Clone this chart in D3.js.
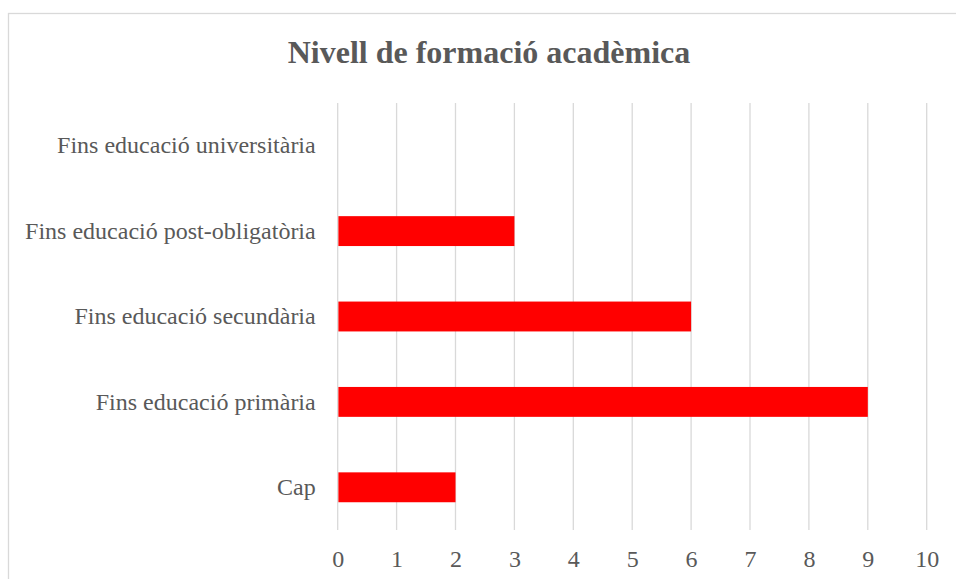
<!DOCTYPE html>
<html>
<head>
<meta charset="utf-8">
<script src="https://cdn.jsdelivr.net/npm/d3@7"></script>
<style>
  body { margin: 0; background: #fff; }
</style>
</head>
<body>
<script>
var categories = ['Fins educació universitària', 'Fins educació post-obligatòria', 'Fins educació secundària', 'Fins educació primària', 'Cap'];
var values = [0, 3, 6, 9, 2];
var xTicks = [0, 1, 2, 3, 4, 5, 6, 7, 8, 9, 10];
var title = 'Nivell de formació acadèmica';

var fontFamily = "'Liberation Serif', 'Times New Roman', Times, serif";

var svgWidth = 956, svgHeight = 579;
var margin = {top: 103, left: 337.7, bottom: 49, right: 29.3};
var width = svgWidth - margin.left - margin.right,
    height = svgHeight - margin.top - margin.bottom;

var svg = d3.select('body').append('svg')
  .attr('width', svgWidth)
  .attr('height', svgHeight);

// chart frame (cropped on the right and bottom)
svg.append('rect')
  .attr('x', 8.5).attr('y', 13.5)
  .attr('width', 970).attr('height', 600)
  .attr('fill', 'white')
  .attr('stroke', '#d9d9d9')
  .attr('stroke-width', 1.3);

svg.append('text')
  .attr('x', 489).attr('y', 63)
  .attr('text-anchor', 'middle')
  .style('font-family', fontFamily)
  .style('font-size', '32px')
  .style('font-weight', 'bold')
  .style('fill', '#595959')
  .text(title);

var g = svg.append('g')
  .attr('transform', `translate(${margin.left},${margin.top})`);

var xScale = d3.scaleLinear().domain([0, 10]).range([0, width]);
var yScale = d3.scaleBand().domain(categories).range([0, height]).paddingInner(0.65).paddingOuter(0.325);

// grid
g.selectAll('.grid').data(xTicks).enter().append('line')
  .attr('class', 'grid')
  .attr('x1', d => xScale(d)).attr('x2', d => xScale(d))
  .attr('y1', 0).attr('y2', height)
  .attr('stroke', '#d9d9d9')
  .attr('stroke-width', 1.3);

// bars
g.selectAll('.bar').data(values).enter().append('rect')
  .attr('class', 'bar')
  .attr('x', xScale(0) + 0.7)
  .attr('y', (d, i) => yScale(categories[i]))
  .attr('width', d => Math.max(0, xScale(d) - xScale(0) - 0.7))
  .attr('height', yScale.bandwidth())
  .attr('fill', '#ff0000');

// axes
var xAxis = d3.axisBottom(xScale).tickValues(xTicks).tickSize(0).tickPadding(20);
var gx = g.append('g').attr('transform', `translate(0,${height})`).call(xAxis);
gx.attr('font-family', null).attr('font-size', null);
gx.select('.domain').remove();
gx.selectAll('text')
  .style('font-family', fontFamily)
  .style('font-size', '24px')
  .style('fill', '#595959');

var yAxis = d3.axisLeft(yScale).tickSize(0).tickPadding(22);
var gy = g.append('g').call(yAxis);
gy.attr('font-family', null).attr('font-size', null);
gy.select('.domain').remove();
gy.selectAll('text')
  .style('font-family', fontFamily)
  .style('font-size', '24px')
  .style('fill', '#595959');
</script>
</body>
</html>
